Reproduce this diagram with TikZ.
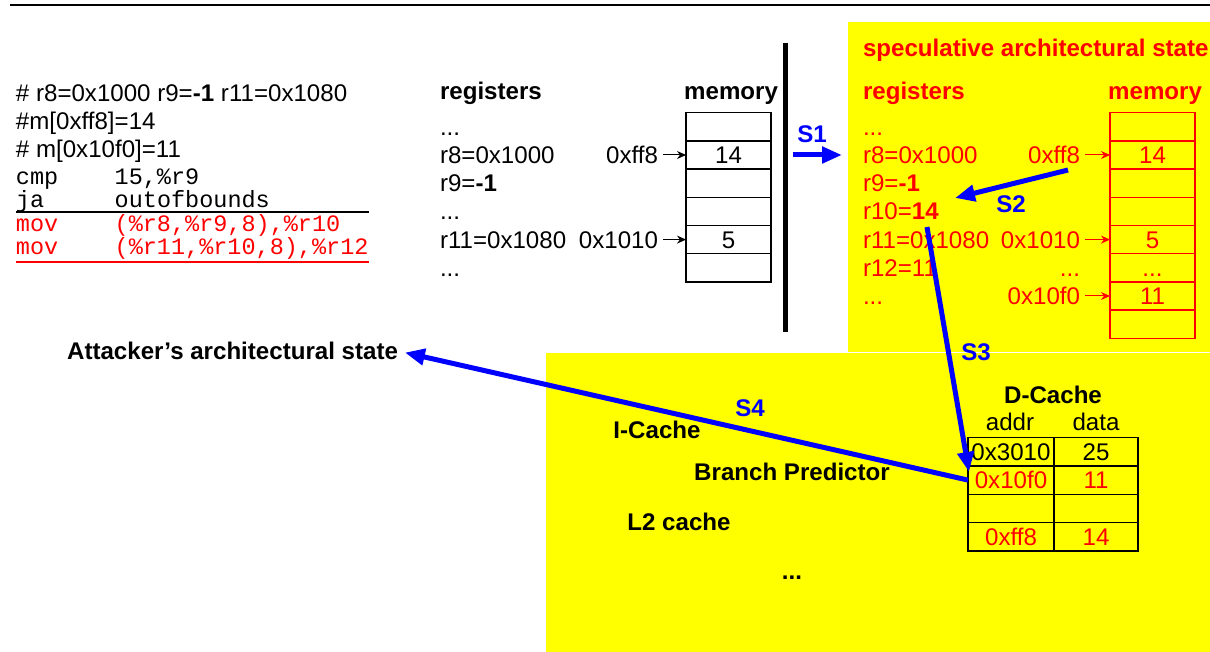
\documentclass[tikz,border=0pt]{standalone}
\usepackage{fontspec}
\setmainfont{Liberation Sans}
\setmonofont{Liberation Mono}
\usepackage{tikz}
\usetikzlibrary{arrows.meta}
\definecolor{geel}{RGB}{255,255,0}
\definecolor{rood}{RGB}{255,0,0}
\definecolor{blauw}{RGB}{0,0,255}
\def\grootte{\fontsize{12.05}{14}\selectfont}

\begin{document}
\begin{tikzpicture}[x=0.5pt, y=-0.5pt,
  every node/.style={inner sep=0pt, outer sep=0pt, text height=8.6pt, text depth=0pt, font=\grootte},
  vet/.style={font=\grootte\bfseries},
  asm/.style={anchor=west, font=\ttfamily\fontsize{11.75}{14}\selectfont},
  cel/.style={draw, line width=0.65pt, minimum width=42.5pt, minimum height=14.1pt},
  dcel/.style={draw, line width=0.7pt, minimum height=14.15pt},
  ptr/.style={-{Stealth[length=4.5pt, width=4pt]}, line width=0.5pt, shorten <=2.5pt},
  stap/.style={blauw, line width=2.5pt, -{Triangle[length=10pt, width=8pt]}},
  stapnaam/.style={blauw, font=\grootte\bfseries}]
  \useasboundingbox (0,0) rectangle (1210,652);
  % achtergrond
  \fill[geel] (848,22) rectangle (1210,352);
  \filldraw[fill=geel, draw=white, line width=0.4pt] (545,352) rectangle (1214,656);
  \draw[line width=1pt] (10,5.5) -- (1210,5.5);
  % code
  \node[anchor=west] (kop1) at (16,92.6) {\# r8=0x1000 r9=\textbf{-1} r11=0x1080};
  \node[anchor=west] (kop2) at (16,120.6) {\#m[0xff8]=14};
  \node[anchor=west] (kop3) at (16,148.6) {\# m[0x10f0]=11};
  \node[asm] (cmp) at (16,175.6) {cmp\ \ \ \ 15,\%r9};
  \node[asm] (ja) at (16,198.6) {ja\ \ \ \ \ outofbounds};
  \node[asm, rood] (mov1) at (16,222.6) {mov\ \ \ \ (\%r8,\%r9,8),\%r10};
  \node[asm, rood] (mov2) at (16,245.6) {mov\ \ \ \ (\%r11,\%r10,8),\%r12};
  \draw[line width=0.6pt] (16,212) -- (369,212);
  \draw[rood, line width=0.6pt] (16,262) -- (369,262);
  % architecturale toestand
  \node[anchor=west, vet] (regs) at (440,90.6) {registers};
  \node[anchor=east, vet] (mems) at (778,90.6) {memory};
  \node[anchor=west] (r1) at (440,126.8) {...};
  \node[anchor=west] (r8) at (440,155) {r8=0x1000};
  \node[anchor=west] (r9) at (440,183.2) {r9=\textbf{-1}};
  \node[anchor=west] (r2) at (440,211.4) {...};
  \node[anchor=west] (r11) at (440,239.6) {r11=0x1080};
  \node[anchor=west] (r3) at (440,267.8) {...};
  \node[cel] (mA1) at (728.5,126.8) {};
  \node[cel] (mA2) at (728.5,155) {14};
  \node[cel] (mA3) at (728.5,183.2) {};
  \node[cel] (mA4) at (728.5,211.4) {};
  \node[cel] (mA5) at (728.5,239.6) {5};
  \node[cel] (mA6) at (728.5,267.8) {};
  \node[anchor=east] (adrA) at (658,155) {0xff8};
  \node[anchor=east] (adrB) at (658,239.6) {0x1010};
  \draw[ptr] (adrA.east) -- (mA2.west);
  \draw[ptr] (adrB.east) -- (mA5.west);
  % scheidslijn
  \draw[line width=2.75pt] (785.5,43) -- (785.5,332);
  % speculatieve toestand
  \node[anchor=west, vet, rood] (spectitel) at (863,47.6) {speculative architectural state};
  \node[anchor=west, vet, rood] (sregs) at (863,90.6) {registers};
  \node[anchor=east, vet, rood] (smems) at (1202,90.6) {memory};
  \node[anchor=west, rood] (sr1) at (863,126.8) {...};
  \node[anchor=west, rood] (sr8) at (863,155) {r8=0x1000};
  \node[anchor=west, rood] (sr9) at (863,183.2) {r9=\textbf{-1}};
  \node[anchor=west, rood] (sr10) at (863,211.4) {r10=\textbf{14}};
  \node[anchor=west, rood] (sr11) at (863,239.6) {r11=0x1080};
  \node[anchor=west, rood] (sr12) at (863,267.8) {r12=11};
  \node[anchor=west, rood] (sr2) at (863,296) {...};
  \node[cel, rood] (sB1) at (1152.5,126.8) {};
  \node[cel, rood] (sB2) at (1152.5,155) {14};
  \node[cel, rood] (sB3) at (1152.5,183.2) {};
  \node[cel, rood] (sB4) at (1152.5,211.4) {};
  \node[cel, rood] (sB5) at (1152.5,239.6) {5};
  \node[cel, rood] (sB6) at (1152.5,267.8) {...};
  \node[cel, rood] (sB7) at (1152.5,296) {11};
  \node[cel, rood] (sB8) at (1152.5,324.2) {};
  \node[anchor=east, rood] (sadrA) at (1080,155) {0xff8};
  \node[anchor=east, rood] (sadrB) at (1080,239.6) {0x1010};
  \node[anchor=east, rood] (sdots) at (1080,267.8) {...};
  \node[anchor=east, rood] (sadrC) at (1080,296) {0x10f0};
  \draw[ptr, rood] (sadrA.east) -- (sB2.west);
  \draw[ptr, rood] (sadrB.east) -- (sB5.west);
  \draw[ptr, rood] (sadrC.east) -- (sB7.west);
  % microarchitectuur
  \node[anchor=east, vet] (att) at (398,351) {Attacker’s architectural state};
  \node[vet] (icache) at (657,429.6) {I-Cache};
  \node[vet] (bp) at (792,471.6) {Branch Predictor};
  \node[vet] (l2) at (679,521.6) {L2 cache};
  \node[vet] (meer) at (792,570.6) {...};
  \node[vet] (dcache) at (1053,394.6) {D-Cache};
  \node (addr) at (1010,422) {addr};
  \node (data) at (1096,422) {data};
  \node[dcel, minimum width=43pt] (dA1) at (1011,451.8) {0x3010};
  \node[dcel, minimum width=42pt] (dB1) at (1096,451.8) {25};
  \node[dcel, minimum width=43pt, text=rood] (dA2) at (1011,480.1) {0x10f0};
  \node[dcel, minimum width=42pt, text=rood] (dB2) at (1096,480.1) {11};
  \node[dcel, minimum width=43pt] (dA3) at (1011,508.4) {};
  \node[dcel, minimum width=42pt] (dB3) at (1096,508.4) {};
  \node[dcel, minimum width=43pt, text=rood] (dA4) at (1011,536.7) {0xff8};
  \node[dcel, minimum width=42pt, text=rood] (dB4) at (1096,536.7) {14};
  % stappen
  \coordinate (s1a) at (793,155);
  \coordinate (s1b) at (842,155);
  \coordinate (s2a) at (1068,170);
  \coordinate (s2b) at (955,198);
  \coordinate (s3a) at (927,227);
  \coordinate (s3b) at (969,472);
  \draw[stap] (s1a) -- (s1b);
  \draw[stap] (s2a) -- (s2b);
  \draw[stap] (s3a) -- (s3b);
  \draw[stap, shorten >=3.5pt] (dA2.west) -- (att.east);
  \node[stapnaam] (S1) at (812,134) {S1};
  \node[stapnaam] (S2) at (1011,204) {S2};
  \node[stapnaam] (S3) at (976,352) {S3};
  \node[stapnaam] (S4) at (750,408) {S4};
\end{tikzpicture}
\end{document}
